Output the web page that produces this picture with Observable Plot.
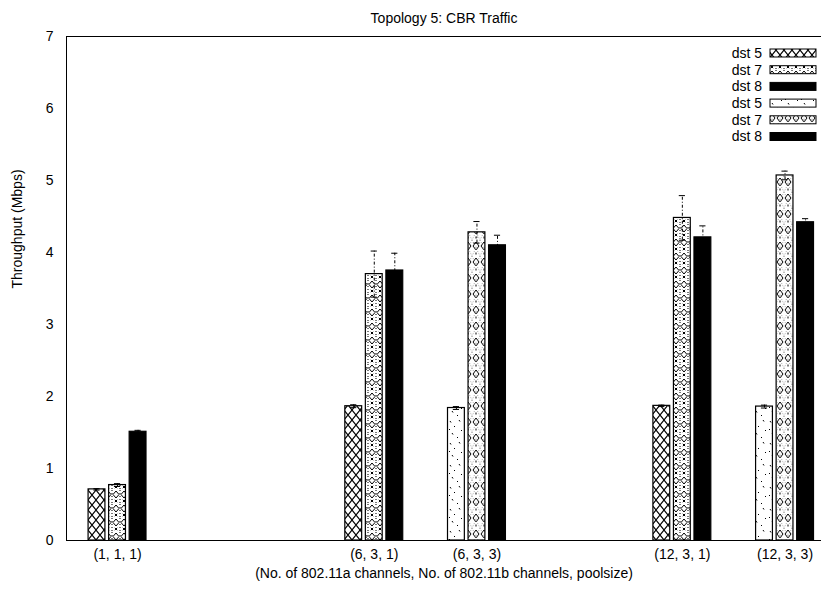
<!DOCTYPE html>
<html><head><meta charset="utf-8">
<script src="https://cdn.jsdelivr.net/npm/d3@7"></script>
<script src="https://cdn.jsdelivr.net/npm/@observablehq/plot@0.6"></script>
<style>body{margin:0;background:#fff}#chart svg{display:block}</style>
</head><body><div id="chart"></div>
<script>
const title = "Topology 5: CBR Traffic";
const xLabel = "(No. of 802.11a channels, No. of 802.11b channels, poolsize)";
const yLabel = "Throughput (Mbps)";
const groups = ["(1, 1, 1)", "(6, 3, 1)", "(6, 3, 3)", "(12, 3, 1)", "(12, 3, 3)"];
const groupPos = [0, 2.5, 3.5, 5.5, 6.5];
const groupSet = [0, 0, 1, 0, 1];
const seriesNames = ["dst 5", "dst 7", "dst 8"];
const dst5 = [0.71, 1.865, 1.84, 1.87, 1.86];
const dst7 = [0.77, 3.70, 4.28, 4.48, 5.07];
const dst8 = [1.51, 3.75, 4.10, 4.21, 4.42];
const dst5Err = [0.01, 0.02, 0.02, 0.01, 0.02];
const dst7Err = [0.02, 0.32, 0.15, 0.31, 0.06];
const dst8Err = [0.02, 0.24, 0.14, 0.16, 0.05];
const yTicks = [0, 1, 2, 3, 4, 5, 6, 7];

const patternIds = [["pA5", "pA7", "pSolid"], ["pB5", "pB7", "pSolid"]];
const values = [dst5, dst7, dst8];
const errs = [dst5Err, dst7Err, dst8Err];
const rows = [];
groups.forEach((g, i) => {
  seriesNames.forEach((s, j) => {
    rows.push({group: g, series: s, x: groupPos[i] + (j - 1) * 0.2, y: values[j][i], err: errs[j][i], fill: patternIds[groupSet[i]][j] === "pSolid" ? "black" : `url(#${patternIds[groupSet[i]][j]})`});
  });
});
const half = 0.082;
const font = "'Liberation Sans', Arial, sans-serif";

const chart = Plot.plot({
  width: 827, height: 597,
  marginTop: 36, marginBottom: 57, marginLeft: 66, marginRight: 6,
  style: {fontFamily: font, fontSize: "14px", background: "#fff", color: "#000"},
  x: {domain: [-0.497, 6.855], axis: null},
  y: {domain: [0, 7], axis: null},
  color: {type: "identity"},
  marks: [
    Plot.axisY({ticks: yTicks, tickSize: 0, tickPadding: 13, label: null, tickFormat: d => d}),
    Plot.axisX({ticks: groupPos, tickSize: 0, tickPadding: 9, label: null, tickFormat: d => groups[groupPos.indexOf(d)]}),
    Plot.rectY(rows, {x1: d => d.x - half, x2: d => d.x + half, y1: 0, y2: "y", fill: "fill", stroke: "black", strokeWidth: 1.2}),
    Plot.ruleX(rows, {x: "x", y1: d => d.y - d.err, y2: d => d.y + d.err, stroke: "#000", strokeWidth: 1, strokeDasharray: "3,2,1,2"}),
    Plot.ruleY(rows, {y: d => d.y + d.err, x1: d => d.x - 0.03, x2: d => d.x + 0.03, stroke: "#000", strokeWidth: 1}),
    Plot.ruleY(rows, {y: d => d.y - d.err, x1: d => d.x - 0.03, x2: d => d.x + 0.03, stroke: "#000", strokeWidth: 1}),
    Plot.ruleY([0, 7], {stroke: "black", strokeWidth: 1}),
    Plot.ruleX([-0.497], {stroke: "black", strokeWidth: 1}),
    Plot.text([title], {frameAnchor: "top", dy: -23, fontSize: 14}),
    Plot.text([xLabel], {frameAnchor: "bottom", dy: 37, fontSize: 14}),
    Plot.text([yLabel], {frameAnchor: "left", dx: -49, rotate: -90, fontSize: 14})
  ]
});

// patterns
const svg = d3.select(chart.tagName.toLowerCase() === "svg" ? chart : chart.querySelector("svg"));
const defs = svg.insert("defs", ":first-child");
function pat(id, w, h, draw) {
  const p = defs.append("pattern").attr("id", id).attr("patternUnits", "userSpaceOnUse").attr("width", w).attr("height", h);
  p.append("rect").attr("width", w).attr("height", h).attr("fill", "#fff");
  draw(p);
}
pat("pA5", 8, 10, p => p.append("path").attr("d", "M0,0L8,10M8,0L0,10").attr("stroke", "#000").attr("stroke-width", 1.1).attr("fill", "none"));
pat("pA7", 8, 14, p => {
  p.append("path").attr("d", "M4,1L7,4.5L4,8L1,4.5Z").attr("stroke", "#000").attr("stroke-width", 1).attr("fill", "none");
  p.append("path").attr("d", "M2.8,9.8L5.2,12.2M5.2,9.8L2.8,12.2").attr("stroke", "#000").attr("stroke-width", 1);
  p.append("path").attr("d", "M0.5,0V14M7.5,0V14").attr("stroke", "#555").attr("stroke-width", 0.8).attr("stroke-dasharray", "1,2");
});
pat("pB5", 16, 22, p => {
  p.append("path").attr("d", "M2,3L3,4.5M6,8L7,9M11,2L12,3.5M13,12L14,13M4,15L5,16.5M9,19L10,20M1,11L2,12").attr("stroke", "#000").attr("stroke-width", 1);
});
pat("pB7", 8, 16, p => {
  p.append("path").attr("d", "M4,2L7,6L4,10L1,6Z").attr("stroke", "#000").attr("stroke-width", 1).attr("fill", "none");
  p.append("path").attr("d", "M0,0L8,16M8,0L0,16").attr("stroke", "#777").attr("stroke-width", 0.7).attr("stroke-dasharray", "1,1.5");
  p.append("path").attr("d", "M4,12.5L4,14.5").attr("stroke", "#000").attr("stroke-width", 1);
});

// legend
const leg = svg.append("g").attr("font-family", font).attr("font-size", 14);
const legRows = [];
[0, 1].forEach(k => seriesNames.forEach((s, j) => legRows.push({name: s, fill: patternIds[k][j] === "pSolid" ? "black" : `url(#${patternIds[k][j]})`})));
legRows.forEach((r, i) => {
  const cy = 53 + i * 16.7;
  leg.append("text").attr("x", 762).attr("y", cy).attr("dy", "0.35em").attr("text-anchor", "end").text(r.name);
  leg.append("rect").attr("x", 770).attr("y", cy - 4).attr("width", 46).attr("height", 8).attr("fill", r.fill).attr("stroke", "#000").attr("stroke-width", 1);
});

document.getElementById("chart").appendChild(chart);
</script>
</body></html>
